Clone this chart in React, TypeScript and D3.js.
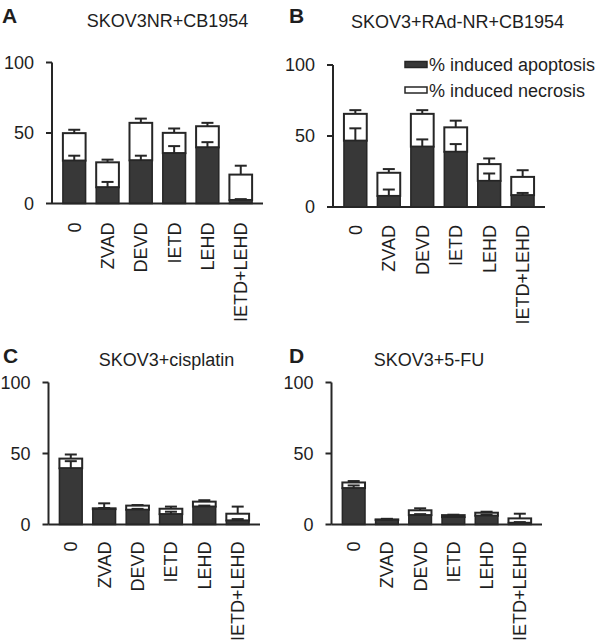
import React from "react";
import * as d3 from "d3";

const categories = ["0", "ZVAD", "DEVD", "IETD", "LEHD", "IETD+LEHD"];
const yTicks = [0, 50, 100];

const aApoptosis = [30.4, 11.5, 30.6, 35.7, 39.8, 2.5];
const aApoptosisErr = [3.5, 3.8, 3.3, 5.0, 3.7, 0.6];
const aNecrosis = [19.5, 17.7, 26.6, 14.4, 15.0, 18.0];
const aNecrosisErr = [2.4, 1.9, 3.0, 3.1, 2.4, 6.3];

const bApoptosis = [46.7, 7.8, 42.5, 38.9, 18.4, 8.3];
const bApoptosisErr = [8.7, 4.5, 5.1, 5.4, 5.2, 1.6];
const bNecrosis = [18.9, 16.3, 23.1, 17.2, 11.8, 12.9];
const bNecrosisErr = [2.6, 2.6, 2.6, 4.7, 4.0, 4.7];

const cApoptosis = [39.6, 10.8, 10.4, 7.3, 12.6, 2.8];
const cApoptosisErr = [5.0, 0.8, 0.6, 1.7, 0.7, 1.0];
const cNecrosis = [6.8, 0.6, 2.9, 3.8, 3.5, 4.8];
const cNecrosisErr = [2.9, 3.5, 0.4, 1.5, 1.0, 5.0];

const dApoptosis = [25.6, 3.2, 6.6, 5.2, 6.2, 1.2];
const dApoptosisErr = [1.9, 0.3, 0.7, 0.3, 0.7, 0.5];
const dNecrosis = [4.0, 0.4, 3.4, 1.4, 2.1, 3.1];
const dNecrosisErr = [1.0, 0.4, 1.4, 0.3, 0.7, 3.3];

const legendLabels = ["% induced apoptosis", "% induced necrosis"];

const FONT = "'Liberation Sans', Arial, Helvetica, sans-serif";
const DARK = "#383838";
const INK = "#262626";
const TEXT = "#1e1e1e";

type PanelDef = {
  letter: string;
  title: string;
  apoptosis: number[];
  apoptosisErr: number[];
  necrosis: number[];
  necrosisErr: number[];
  // layout
  x0: number; x1: number; yBase: number; yTop: number;
  titleX: number; titleY: number; letterX: number; letterY: number;
  labelOffset: number;
};

const panels: PanelDef[] = [
  {
    letter: "A", title: "SKOV3NR+CB1954",
    apoptosis: aApoptosis, apoptosisErr: aApoptosisErr, necrosis: aNecrosis, necrosisErr: aNecrosisErr,
    x0: 52, x1: 263, yBase: 203.5, yTop: 62.5,
    titleX: 167.5, titleY: 27, letterX: 2, letterY: 23, labelOffset: 19,
  },
  {
    letter: "B", title: "SKOV3+RAd-NR+CB1954",
    apoptosis: bApoptosis, apoptosisErr: bApoptosisErr, necrosis: bNecrosis, necrosisErr: bNecrosisErr,
    x0: 333, x1: 545, yBase: 207, yTop: 65,
    titleX: 457.5, titleY: 28, letterX: 289, letterY: 23, labelOffset: 18,
  },
  {
    letter: "C", title: "SKOV3+cisplatin",
    apoptosis: cApoptosis, apoptosisErr: cApoptosisErr, necrosis: cNecrosis, necrosisErr: cNecrosisErr,
    x0: 48.5, x1: 260, yBase: 524.5, yTop: 382.5,
    titleX: 166.5, titleY: 365.5, letterX: 3, letterY: 363, labelOffset: 17,
  },
  {
    letter: "D", title: "SKOV3+5-FU",
    apoptosis: dApoptosis, apoptosisErr: dApoptosisErr, necrosis: dNecrosis, necrosisErr: dNecrosisErr,
    x0: 331.5, x1: 542, yBase: 524.5, yTop: 382.5,
    titleX: 429, titleY: 365.5, letterX: 289, letterY: 363, labelOffset: 17,
  },
];

function Panel({ p }: { p: PanelDef }) {
  const x = d3.scaleBand<string>().domain(categories).range([p.x0, p.x1]).paddingInner(0.318).paddingOuter(0.327);
  const y = d3.scaleLinear().domain([0, 100]).range([p.yBase, p.yTop]);
  const rows = categories.map((c, i) => ({ cat: c, apoptosis: p.apoptosis[i], necrosis: p.necrosis[i] }));
  const stack = d3.stack<any>().keys(["apoptosis", "necrosis"])(rows);
  const bw = x.bandwidth();
  const cap = 12;
  return (
    <g>
      <text x={p.letterX} y={p.letterY} fontSize={21} fontWeight="bold" fill={TEXT} fontFamily={FONT}>{p.letter}</text>
      <text x={p.titleX} y={p.titleY} fontSize={18} textAnchor="middle" fill={TEXT} fontFamily={FONT}>{p.title}</text>
      {/* bars: necrosis layer first (white), then apoptosis */}
      {stack[1].map((d, i) => {
        const cx = x(categories[i])! + bw / 2;
        const top = y(d[1]);
        const errTop = y(d[1] + p.necrosisErr[i]);
        return (
          <g key={"n" + i}>
            <line x1={cx} x2={cx} y1={top} y2={errTop} stroke={INK} strokeWidth={2} />
            <line x1={cx - cap / 2} x2={cx + cap / 2} y1={errTop} y2={errTop} stroke={INK} strokeWidth={2} />
            <rect x={x(categories[i])} y={top} width={bw} height={y(d[0]) - top} fill="#fff" stroke={INK} strokeWidth={2} />
          </g>
        );
      })}
      {stack[0].map((d, i) => {
        const cx = x(categories[i])! + bw / 2;
        const top = y(d[1]);
        const errTop = y(d[1] + p.apoptosisErr[i]);
        return (
          <g key={"a" + i}>
            <rect x={x(categories[i])} y={top} width={bw} height={y(d[0]) - top} fill={DARK} stroke={INK} strokeWidth={1.5} />
            <line x1={cx} x2={cx} y1={top} y2={errTop} stroke={INK} strokeWidth={2} />
            <line x1={cx - cap / 2} x2={cx + cap / 2} y1={errTop} y2={errTop} stroke={INK} strokeWidth={2} />
          </g>
        );
      })}
      {/* axes */}
      <line x1={p.x0} x2={p.x0} y1={y(100)} y2={y(0)} stroke={INK} strokeWidth={2} />
      <line x1={p.x0} x2={p.x1} y1={y(0)} y2={y(0)} stroke={INK} strokeWidth={2} />
      {yTicks.map((t) => (
        <g key={t}>
          <line x1={p.x0 - 6} x2={p.x0} y1={y(t)} y2={y(t)} stroke={INK} strokeWidth={2} />
          <text x={p.x0 - 18} y={y(t)} dy="0.36em" fontSize={18} textAnchor="end" fill={TEXT} fontFamily={FONT}>{t}</text>
        </g>
      ))}
      {categories.map((c) => {
        const cx = x(c)! + bw / 2;
        return (
          <text key={c} transform={`translate(${cx + 6.5},${p.yBase + p.labelOffset}) rotate(-90)`} fontSize={18}
            textAnchor="end" fill={TEXT} fontFamily={FONT}>{c}</text>
        );
      })}
    </g>
  );
}

export default function App() {
  return (
    <svg width={600} height={642} style={{ position: "absolute", left: 0, top: 0, background: "#fff" }}>
      {panels.map((p) => <Panel key={p.letter} p={p} />)}
      {/* legend */}
      <g fontFamily={FONT} fontSize={18} fill={TEXT}>
        <rect x={405} y={61.5} width={22} height={6} fill={DARK} stroke={INK} strokeWidth={1.5} />
        <text x={429} y={71}>{legendLabels[0]}</text>
        <rect x={405} y={87} width={22} height={6} fill="#fff" stroke={INK} strokeWidth={1.5} />
        <text x={429} y={96.5}>{legendLabels[1]}</text>
      </g>
    </svg>
  );
}
